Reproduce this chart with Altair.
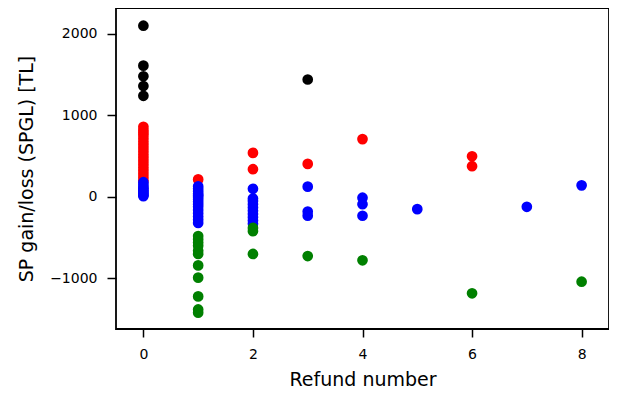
import altair as alt
import pandas as pd

# Refund number (x) and SP gain/loss (y) per group
black_x = [0, 0, 0, 0, 0, 3]
black_y = [2100, 1610, 1480, 1360, 1240, 1440]

red_x = [0]*18 + [1, 2, 2, 3, 4, 6, 6]
red_y = [860, 820, 790, 760, 720, 680, 640, 600, 560, 520, 480, 440, 400,
         360, 320, 280, 240, 200,
         215, 540, 340, 405, 709, 498, 377]

blue_x = [0]*9 + [1]*15 + [2]*10 + [3]*3 + [4]*3 + [5, 7, 8]
blue_y = [180, 150, 120, 100, 80, 60, 40, 20, 10,
          130, 100, 70, 40, 20, 0, -30, -60, -90, -120, -160, -200, -240, -280, -320,
          100, -20, -50, -90, -130, -170, -210, -250, -290, -330,
          126, -180, -230,
          -10, -89, -231,
          -150, -121, 142]

green_x = [1]*11 + [2]*3 + [3, 4, 6, 8]
green_y = [-480, -520, -560, -600, -660, -700, -840, -990, -1220, -1380, -1420,
           -380, -420, -700,
           -725, -777, -1182, -1040]

groups = ["black", "red", "blue", "green"]
colors = ["#000000", "#ff0000", "#0000ff", "#008000"]

rows = []
for g, xs, ys in [("black", black_x, black_y), ("red", red_x, red_y),
                  ("blue", blue_x, blue_y), ("green", green_x, green_y)]:
    for a, b in zip(xs, ys):
        rows.append({"refund": a, "spgl": b, "group": g, "order": groups.index(g)})
df = pd.DataFrame(rows)

font = "DejaVu Sans"

chart = alt.Chart(df).mark_circle(size=115, opacity=1).encode(
    x=alt.X("refund:Q",
            scale=alt.Scale(domain=[-0.5, 8.5], nice=False, zero=False),
            axis=alt.Axis(title="Refund number", values=[0, 2, 4, 6, 8],
                          format="d", grid=False, domain=False,
                          tickColor="black", tickWidth=1.5, tickSize=8,
                          labelPadding=10, labelFontSize=14, labelColor="black",
                          labelFont=font, titleFont=font, titleFontSize=19,
                          titleFontWeight="normal", titleColor="black",
                          titleY=56, titleBaseline="alphabetic")),
    y=alt.Y("spgl:Q",
            scale=alt.Scale(domain=[-1620, 2317], nice=False, zero=False),
            axis=alt.Axis(title="SP gain/loss (SPGL) [TL]",
                          values=[-1000, 0, 1000, 2000], format="d",
                          grid=False, domain=False,
                          tickColor="black", tickWidth=1.5, tickSize=9,
                          labelPadding=10, labelFontSize=14, labelColor="black",
                          labelFont=font, titleFont=font, titleFontSize=19,
                          titleFontWeight="normal", titleColor="black",
                          titleX=-84, titleBaseline="alphabetic")),
    color=alt.Color("group:N", scale=alt.Scale(domain=groups, range=colors),
                    legend=None),
    order=alt.Order("order:Q"),
).properties(
    width=493, height=321,
    autosize=alt.AutoSizeParams(type="none"),
    padding={"left": 108, "top": 0, "right": 0, "bottom": 61},
).configure(
    background="white",
    view=alt.ViewConfig(stroke="black", strokeWidth=1.8),
)

chart.save("out.html", embed_options={"renderer": "svg", "actions": False})
